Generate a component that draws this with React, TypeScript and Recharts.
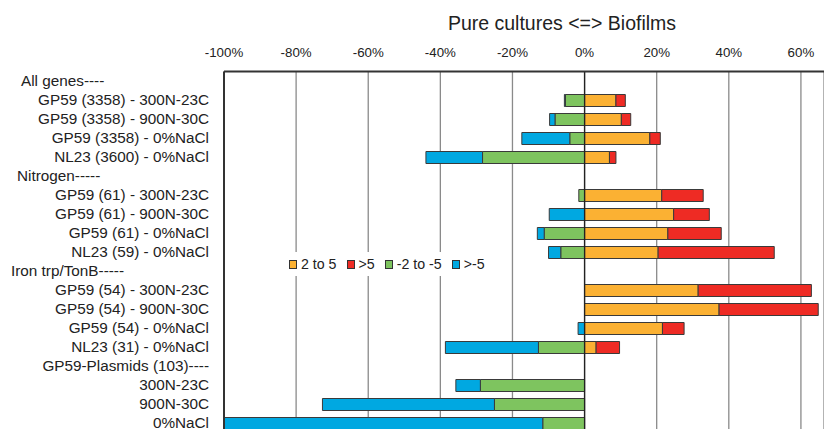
import React from 'react'
import { BarChart, Bar, XAxis, YAxis, CartesianGrid, ReferenceLine, Legend } from 'recharts'

// rows top to bottom, headers carry no bars
const CATEGORIES = [
  'All genes----',
  'GP59 (3358) - 300N-23C',
  'GP59 (3358) - 900N-30C',
  'GP59 (3358) - 0%NaCl',
  'NL23 (3600) - 0%NaCl',
  'Nitrogen-----',
  'GP59 (61) - 300N-23C',
  'GP59 (61) - 900N-30C',
  'GP59 (61) - 0%NaCl',
  'NL23 (59) - 0%NaCl',
  'Iron trp/TonB-----',
  'GP59 (54) - 300N-23C',
  'GP59 (54) - 900N-30C',
  'GP59 (54) - 0%NaCl',
  'NL23 (31) - 0%NaCl',
  'GP59-Plasmids (103)----',
  '300N-23C',
  '900N-30C',
  '0%NaCl',
]

const UP_2_TO_5 = [0, 0.087, 0.102, 0.181, 0.069, 0, 0.214, 0.247, 0.231, 0.204, 0, 0.315, 0.373, 0.216, 0.032, 0, 0, 0, 0]
const UP_OVER_5 = [0, 0.026, 0.026, 0.029, 0.018, 0, 0.115, 0.099, 0.148, 0.322, 0, 0.314, 0.275, 0.06, 0.065, 0, 0, 0, 0]
const DOWN_2_TO_5 = [0, -0.053, -0.082, -0.041, -0.283, 0, -0.016, 0, -0.112, -0.066, 0, 0, 0, 0, -0.128, 0, -0.289, -0.25, -0.116]
const DOWN_OVER_5 = [0, -0.003, -0.015, -0.133, -0.157, 0, 0, -0.098, -0.019, -0.034, 0, 0, 0, -0.018, -0.258, 0, -0.068, -0.477, -0.884]

const X_TICKS = [-1, -0.8, -0.6, -0.4, -0.2, 0, 0.2, 0.4, 0.6]

const SERIES = [
  { key: 'up25', name: '2 to 5', color: '#FBB133' },
  { key: 'up5', name: '>5', color: '#EE2B24' },
  { key: 'down25', name: '-2 to -5', color: '#7EC45F' },
  { key: 'down5', name: '>-5', color: '#00A8E1' },
]

const data = CATEGORIES.map((name, i) => ({
  name,
  up25: UP_2_TO_5[i],
  up5: UP_OVER_5[i],
  down25: DOWN_2_TO_5[i],
  down5: DOWN_OVER_5[i],
}))

const FONT = '"Liberation Sans", Arial, sans-serif'

// header rows sit further left than the right-aligned labels
const HEADER_LEFT: Record<string, number> = {
  'All genes----': 21,
  'Nitrogen-----': 17,
  'Iron trp/TonB-----': 11,
}

function CategoryTick(props: any) {
  const { x, y, payload } = props
  const left = HEADER_LEFT[payload.value]
  if (left !== undefined) {
    return (
      <text x={left} y={y} dy="0.355em" textAnchor="start" fontSize={15.3} fill="#222" fontFamily={FONT}>
        {payload.value}
      </text>
    )
  }
  return (
    <text x={x} y={y} dy="0.355em" textAnchor="end" fontSize={15.3} fill="#222" fontFamily={FONT}>
      {payload.value}
    </text>
  )
}

function LegendBox() {
  return (
    <div style={{ display: 'flex', alignItems: 'center', background: '#fff', height: 24, paddingLeft: 5, fontFamily: FONT, fontSize: 14.2, color: '#222' }}>
      {SERIES.map((s) => (
        <span key={s.key} style={{ display: 'flex', alignItems: 'center', marginRight: 10 }}>
          <span style={{ width: 6, height: 7, background: s.color, border: '1px solid #333', marginRight: 4 }} />
          {s.name}
        </span>
      ))}
    </div>
  )
}

export default function App() {
  return (
    <div style={{ position: 'absolute', left: 0, top: 0, width: 824, height: 429, overflow: 'hidden', background: '#fff' }}>
      <div style={{ position: 'absolute', left: 362, top: 12.5, width: 400, textAlign: 'center', fontFamily: FONT, fontSize: 19.5, lineHeight: '20px', color: '#222' }}>
        Pure cultures &lt;=&gt; Biofilms
      </div>
      <BarChart
        width={824}
        height={440}
        data={data}
        layout="vertical"
        stackOffset="sign"
        barSize={12}
        margin={{ top: 41.5, right: 0, left: 0, bottom: 7.5 }}
      >
        <CartesianGrid horizontal={false} stroke="#8a8a8a" strokeWidth={1.3} />
        <XAxis
          type="number"
          orientation="top"
          domain={[-1, 0.664]}
          ticks={X_TICKS}
          height={30}
          allowDataOverflow
          tickFormatter={(v: number) => `${Math.round(v * 100)}%`}
          tick={{ fontSize: 13.3, fill: '#222', fontFamily: FONT }}
          tickLine={false}
          tickSize={0}
          tickMargin={15}
          axisLine={{ stroke: '#333', strokeWidth: 2 }}
        />
        <YAxis
          type="category"
          dataKey="name"
          width={224}
          interval={0}
          tick={<CategoryTick />}
          tickLine={false}
          tickSize={0}
          tickMargin={15}
          axisLine={{ stroke: '#333', strokeWidth: 2 }}
        />
        {SERIES.map((s) => (
          <Bar
            key={s.key}
            dataKey={s.key}
            name={s.name}
            stackId="a"
            fill={s.color}
            stroke="#3a3a3a"
            strokeWidth={1}
            isAnimationActive={false}
          />
        ))}
        <ReferenceLine x={0} stroke="#222" strokeWidth={1.3} />
        <Legend
          verticalAlign="middle"
          align="center"
          layout="horizontal"
          content={<LegendBox />}
          wrapperStyle={{ left: 284, top: 252, width: 212, height: 24 }}
        />
      </BarChart>
    </div>
  )
}
